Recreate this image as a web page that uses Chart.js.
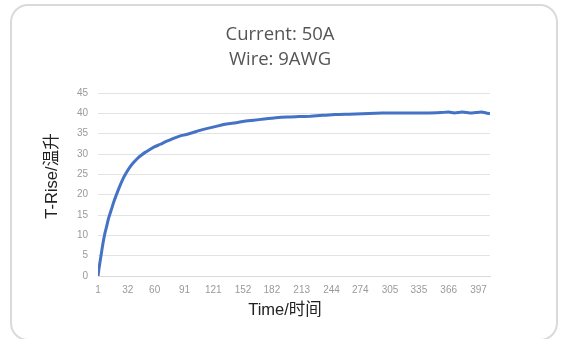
<!DOCTYPE html>
<html>
<head>
<meta charset="utf-8">
<script src="https://cdn.jsdelivr.net/npm/chart.js@4"></script>
<style>
  body { margin: 0; background: #fff; width: 569px; height: 339px; overflow: hidden; position: relative; }
  #frame { position: absolute; left: 10px; top: 4px; width: 548px; height: 337px; border: 2px solid #dadada; border-radius: 18px; box-sizing: border-box; }
  #tempChart { position: absolute; left: 0; top: 0; }
</style>
</head>
<body>
<div id="frame"></div>
<canvas id="tempChart" width="569" height="339"></canvas>
<script>
// Datos
const titleLines = ["Current: 50A", "Wire: 9AWG"];
const xTitle = "Time/时间";
const yTitle = "T-Rise/温升";
const xTickValues = [1, 32, 60, 91, 121, 152, 182, 213, 244, 274, 305, 335, 366, 397];
const times = [1, 2, 4, 6, 8, 10, 12, 15, 18, 21, 24, 27, 30, 34, 38, 42, 46, 50, 55, 60,
  66, 72, 79, 86, 93, 100, 107, 115, 124, 133, 142, 152, 163, 174, 186, 198, 210, 222,
  235, 248, 262, 276, 290, 304, 318, 332, 346, 358, 366, 372, 380, 388, 394, 400, 405, 409];
const temps = [0, 1.8, 4.8, 7.8, 10.3, 12.2, 14.2, 16.4, 18.6, 20.5, 22.3, 23.9, 25.2, 26.7,
  27.9, 28.9, 29.7, 30.4, 31.1, 31.8, 32.4, 33.1, 33.8, 34.4, 34.8, 35.3, 35.8, 36.3, 36.8,
  37.3, 37.6, 38.0, 38.3, 38.6, 38.9, 39.1, 39.2, 39.3, 39.5, 39.7, 39.8, 39.9, 40.0, 40.1,
  40.1, 40.1, 40.1, 40.2, 40.3, 40.1, 40.3, 40.1, 40.2, 40.3, 40.1, 39.9];

// Títulos dibujados a mano para centrarlos como en el original
const frameTitles = {
  id: "frameTitles",
  afterDraw(chart) {
    const ctx = chart.ctx;
    ctx.save();
    ctx.textAlign = "center";
    ctx.textBaseline = "middle";
    ctx.font = '18.5px "Open Sans", "Noto Sans", sans-serif';
    ctx.fillStyle = "#555";
    titleLines.forEach((t, i) => ctx.fillText(t, 280, 35 + i * 25));
    ctx.font = '16.5px "Liberation Sans", "Noto Sans CJK SC", sans-serif';
    ctx.fillStyle = "#222";
    ctx.fillText(xTitle, 285, 310);
    ctx.translate(52, 176);
    ctx.rotate(-Math.PI / 2);
    ctx.fillText(yTitle, 0, 0);
    ctx.restore();
  }
};

new Chart(document.getElementById("tempChart"), {
  type: "line",
  data: {
    datasets: [{
      label: "T-Rise",
      data: times.map((t, i) => ({ x: t, y: temps[i] })),
      borderColor: "#4472c4",
      borderWidth: 3,
      pointRadius: 0,
      tension: 0.2,
      fill: false
    }]
  },
  options: {
    responsive: false,
    animation: false,
    layout: { padding: { top: 93, right: 79, bottom: 0, left: 0 } },
    plugins: { legend: { display: false }, title: { display: false }, tooltip: { enabled: false } },
    scales: {
      x: {
        type: "linear",
        min: 1,
        max: 409,
        afterBuildTicks: s => { s.ticks = xTickValues.map(v => ({ value: v })); },
        afterFit: s => { s.height = 63; },
        grid: { display: false, drawTicks: false },
        border: { display: true, color: "#d9d9d9" },
        ticks: {
          autoSkip: false, maxRotation: 0, padding: 8,
          color: "#9a9a9a", font: { family: "Liberation Sans", size: 10 }
        }
      },
      y: {
        min: 0,
        max: 45,
        afterFit: s => { s.width = 98; },
        grid: { color: "#e3e3e3", drawTicks: false },
        border: { display: false },
        ticks: {
          stepSize: 5, padding: 10,
          color: "#9a9a9a", font: { family: "Liberation Sans", size: 10 }
        }
      }
    }
  },
  plugins: [frameTitles]
});
</script>
</body>
</html>
